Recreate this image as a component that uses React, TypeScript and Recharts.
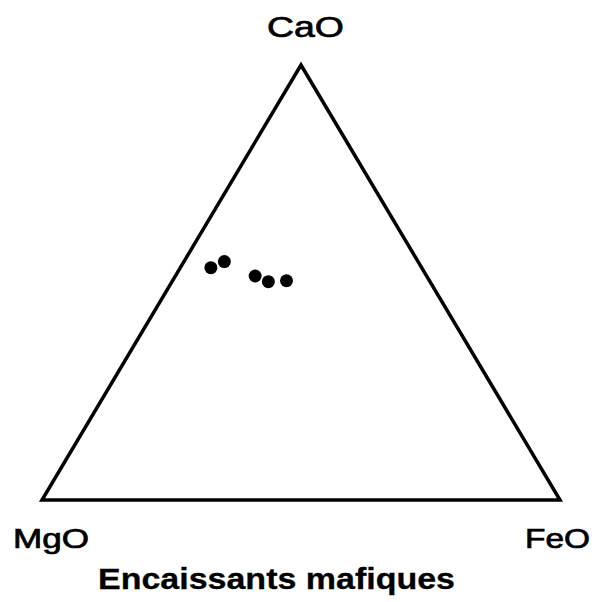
import { ScatterChart, Scatter, XAxis, YAxis, ReferenceDot } from 'recharts';

// Sample compositions (wt %, normalised to 100)
const CAO = [53.4, 54.8, 51.5, 50.2, 50.4];
const MGO = [40.7, 37.4, 33.1, 31.2, 27.6];
const FEO = [5.9, 7.8, 15.4, 18.6, 22.0];

// Apex names, in order MgO (left), FeO (right), CaO (top)
const APEX_NAMES = ['MgO', 'FeO', 'CaO'];
const TITLE = 'Encaissants mafiques';

const FONT = '"Liberation Sans", Arial, Helvetica, sans-serif';

// ternary (CaO, MgO, FeO) -> cartesian, x in [0,1], y in [0,1]
function toXY(cao: number, mgo: number, feo: number) {
  const s = cao + mgo + feo;
  const c = cao / s;
  const f = feo / s;
  return { x: f + c / 2, y: c };
}

const points = CAO.map((c, i) => toXY(c, MGO[i], FEO[i]));

const mgoApex = toXY(0, 100, 0);
const feoApex = toXY(0, 0, 100);
const caoApex = toXY(100, 0, 0);

// closed outline; base repeated so every corner gets a proper join
const outline = [mgoApex, feoApex, caoApex, mgoApex, feoApex];

type LabelOpts = {
  text: string;
  dx: number;
  dy: number;
  size: number;
  length: number;
  bold?: boolean;
};

function makeLabel({ text, dx, dy, size, length, bold }: LabelOpts) {
  return (props: any) => {
    const vb = props.viewBox ?? { x: 0, y: 0, width: 0, height: 0 };
    const cx = vb.x + (vb.width ?? 0) / 2;
    const cy = vb.y + (vb.height ?? 0) / 2;
    return (
      <text
        x={cx + dx}
        y={cy + dy}
        textAnchor="middle"
        fontFamily={FONT}
        fontSize={size}
        fontWeight={bold ? 'bold' : 'normal'}
        textLength={length}
        lengthAdjust="spacingAndGlyphs"
        fill="#000"
        stroke="#000"
        strokeWidth={bold ? 0.3 : 0.7}
      >
        {text}
      </text>
    );
  };
}

const Dot6 = (props: any) => <circle cx={props.cx} cy={props.cy} r={6.5} fill="#000" />;
const NoShape = () => <g />;

export default function App() {
  return (
    <div style={{ position: 'absolute', left: 0, top: 0, width: 597, height: 602, background: '#fff' }}>
      <ScatterChart
        width={597}
        height={602}
        margin={{ top: 65, right: 37, bottom: 102, left: 42 }}
      >
        <XAxis type="number" dataKey="x" domain={[0, 1]} hide />
        <YAxis type="number" dataKey="y" domain={[0, 1]} hide />
        <Scatter
          data={outline}
          line={{ stroke: '#000', strokeWidth: 3.5, strokeLinejoin: 'miter' }}
          shape={NoShape}
          isAnimationActive={false}
        />
        <Scatter data={points} shape={Dot6} isAnimationActive={false} />
        <ReferenceDot
          x={mgoApex.x}
          y={mgoApex.y}
          r={0}
          fill="none"
          stroke="none"
          label={makeLabel({ text: APEX_NAMES[0], dx: 9, dy: 48, size: 27, length: 76 })}
        />
        <ReferenceDot
          x={feoApex.x}
          y={feoApex.y}
          r={0}
          fill="none"
          stroke="none"
          label={makeLabel({ text: APEX_NAMES[1], dx: -2.5, dy: 48, size: 27, length: 65 })}
        />
        <ReferenceDot
          x={caoApex.x}
          y={caoApex.y}
          r={0}
          fill="none"
          stroke="none"
          label={makeLabel({ text: APEX_NAMES[2], dx: 4.5, dy: -28, size: 29, length: 77 })}
        />
        <ReferenceDot
          x={0.5}
          y={0}
          r={0}
          fill="none"
          stroke="none"
          label={makeLabel({ text: TITLE, dx: -24.5, dy: 89, size: 29, length: 357, bold: true })}
        />
      </ScatterChart>
    </div>
  );
}
